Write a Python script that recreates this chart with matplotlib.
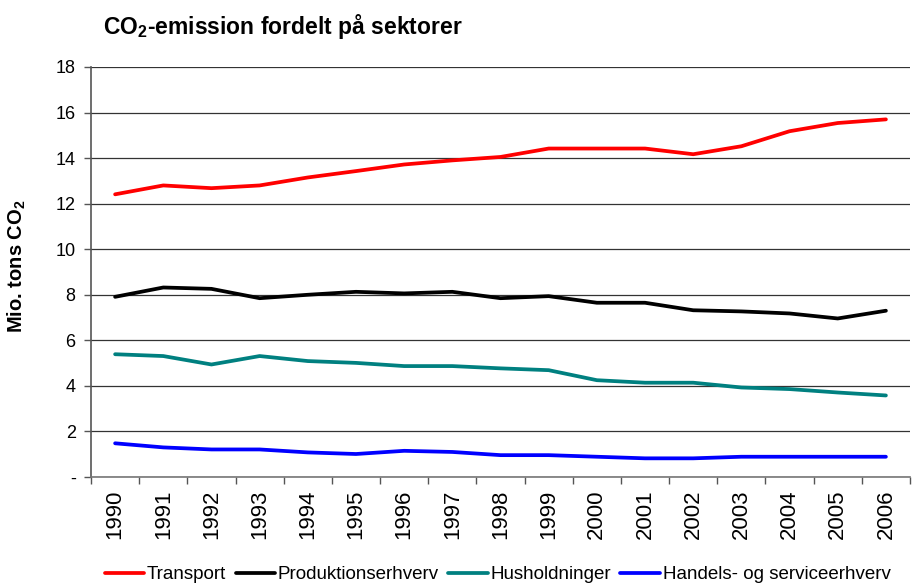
import matplotlib
matplotlib.use("Agg")
import matplotlib.pyplot as plt
from matplotlib.ticker import FixedLocator, FuncFormatter

years = [str(y) for y in range(1990, 2007)]

transport = [12.41, 12.80, 12.68, 12.80, 13.15, 13.43, 13.72, 13.90, 14.05,
             14.42, 14.42, 14.42, 14.17, 14.52, 15.18, 15.54, 15.70]
produktion = [7.91, 8.32, 8.26, 7.85, 8.00, 8.13, 8.06, 8.13, 7.85,
              7.94, 7.65, 7.65, 7.32, 7.27, 7.18, 6.96, 7.30]
husholdninger = [5.39, 5.31, 4.94, 5.31, 5.09, 5.01, 4.87, 4.87, 4.77,
                 4.69, 4.25, 4.14, 4.14, 3.93, 3.86, 3.71, 3.58]
handel = [1.48, 1.30, 1.21, 1.21, 1.08, 1.01, 1.15, 1.10, 0.96,
          0.96, 0.89, 0.82, 0.82, 0.89, 0.89, 0.89, 0.89]

series = [
    ("Transport", transport, "#ff0000"),
    ("Produktionserhverv", produktion, "#000000"),
    ("Husholdninger", husholdninger, "#008080"),
    ("Handels- og serviceerhverv", handel, "#0000ff"),
]

plt.rcParams['font.family'] = ['Liberation Sans', 'DejaVu Sans']
plt.rcParams['mathtext.fontset'] = 'custom'
plt.rcParams['mathtext.rm'] = 'Liberation Sans'
plt.rcParams['mathtext.bf'] = 'Liberation Sans:bold'


def main():
    fig = plt.figure(figsize=(9.13, 5.84), dpi=100)
    ax = fig.add_axes([0.0997, 0.1832, 0.8970, 0.7021])

    x = list(range(len(years)))
    for name, vals, col in series:
        ax.plot(x, vals, color=col, lw=2.7, label=name, solid_capstyle='round')

    ax.set_xlim(-0.5, len(years) - 0.5)
    ax.set_ylim(0, 18)
    ax.set_yticks(range(0, 19, 2))
    ax.yaxis.set_major_formatter(FuncFormatter(lambda v, p: "-" if v == 0 else f"{int(v)}"))
    ax.grid(axis='y', color='#333333', lw=0.9)
    ax.set_axisbelow(True)

    ax.set_xticks(x)
    ax.set_xticklabels(years, rotation=90, fontsize=16)
    ax.tick_params(axis='x', which='major', length=0, pad=9)
    ax.xaxis.set_minor_locator(FixedLocator([i - 0.5 for i in range(len(years) + 1)]))
    ax.tick_params(axis='x', which='minor', length=5, color='#555555', width=1)
    ax.tick_params(axis='y', labelsize=13, length=5, color='#555555', width=1, pad=6)

    for s in ['top', 'right']:
        ax.spines[s].set_visible(False)
    ax.spines['left'].set_color('#555555')
    ax.spines['bottom'].set_color('#777777')
    ax.spines['left'].set_linewidth(1.2)
    ax.spines['bottom'].set_linewidth(1.2)

    ax.set_ylabel(r"Mio. tons CO$_\mathbf{2}$", fontsize=14.5, fontweight='bold', va='center')
    ax.yaxis.set_label_coords(-0.091, 0.515)
    fig.text(0.113, 0.955, r"CO$_\mathbf{2}$-emission fordelt på sektorer", fontsize=16.5,
             fontweight='bold', va='center', ha='left')

    fig.legend(loc='center', bbox_to_anchor=(0.545, 0.016), ncol=4, frameon=False,
               handlelength=2.1, handletextpad=0.15, columnspacing=0.5,
               prop={'family': ['Liberation Sans Narrow', 'Liberation Sans'], 'size': 13.5})

    fig.savefig("out.png", dpi=100)


if __name__ == "__main__":
    main()
